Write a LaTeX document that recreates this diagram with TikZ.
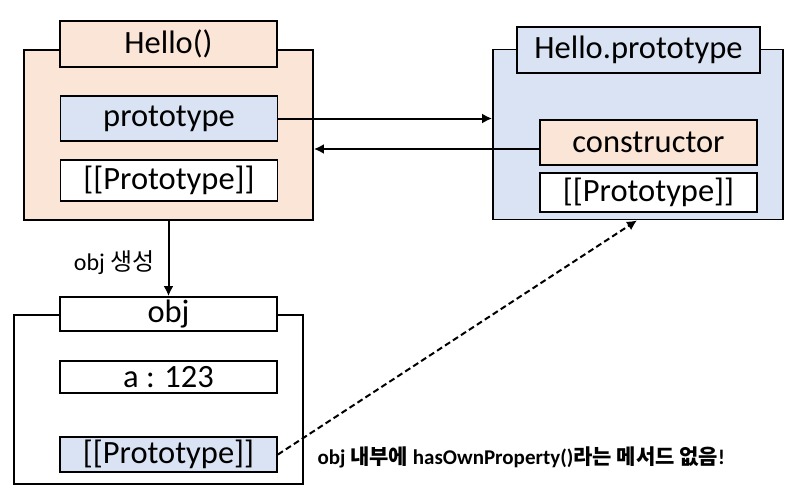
\documentclass[tikz,border=0pt]{standalone}
\usepackage{fontspec}
\setmainfont{Carlito}
\newfontfamily\krfont{Noto Sans CJK KR}
\usepackage{tikz}
\usetikzlibrary{arrows.meta}

\definecolor{peach}{HTML}{FBE5D6}
\definecolor{paleblue}{HTML}{DAE3F3}

\begin{document}
\begin{tikzpicture}[
        x=1pt,
        y=-1pt,
        outer/.style={
            rectangle,
            draw=black,
            line width=1.8pt,
            inner sep=0pt,
            minimum width=289pt,
            minimum height=170pt
        },
        field/.style={
            rectangle,
            draw=black,
            line width=1.8pt,
            inner sep=0pt,
            minimum width=217pt,
            font=\fontsize{32.5}{36}\selectfont
        },
        arrow/.style={
            line width=2pt,
            -{Latex[length=10pt,width=10pt]}
        },
        note/.style={
            font=\fontsize{21}{25}\selectfont\bfseries
        }
    ]

    \useasboundingbox (0,0) rectangle (800,499);

    % Hello() function object
    \node[outer, fill=peach] (hello) at (168.5,135) {};
    \node[field, fill=peach, minimum height=46pt] (hellot) at (168.5,44) {Hello()};
    \node[field, fill=paleblue, minimum height=45pt] (proto) at (169,118.5) {prototype};
    \node[field, fill=white, minimum height=41pt] (hellop) at (169,180.5) {[[Prototype]]};

    % Hello.prototype object
    \node[outer, fill=paleblue, minimum width=290pt] (hproto) at (638,134.5) {};
    \node[field, fill=paleblue, minimum width=243pt, minimum height=46pt] (hprotot) at (638.5,50) {Hello.prototype};
    \node[field, fill=peach, minimum height=45pt] (ctor) at (648.5,142.5) {constructor};
    \node[field, fill=white, minimum height=39pt] (hprotop) at (648.5,192.5) {[[Prototype]]};

    % obj instance
    \node[outer, fill=white, minimum height=169pt] (obj) at (158.5,399.5) {};
    \node[field, fill=white, minimum height=34pt] (objt) at (168.5,314) {obj};
    \node[field, fill=white, minimum height=32pt] (obja) at (168.5,377) {a : 123};
    \node[field, fill=paleblue, minimum height=35pt] (objp) at (168.5,454.5) {[[Prototype]]};

    % Links
    \draw[arrow] (proto.east) -- (proto.east -| hproto.west);
    \draw[arrow] ([yshift=-6.5pt]ctor.west) -- ([yshift=-6.5pt]ctor.west -| hello.east);
    \draw[arrow] (hello.south -| objt.north) -- (objt.north);
    \draw[arrow, dash pattern=on 6pt off 3.5pt] (objp.east) -- ([xshift=-1pt]hproto.south);

    % Labels
    \node[anchor=east, font=\fontsize{24}{28}\selectfont] (make) at (158,263) {obj {\krfont 생성}};
    \node[note, anchor=west] (nomethod) at (314,457) {obj {\krfont\bfseries 내부에} hasOwnProperty(){\krfont\bfseries 라는 메서드 없음}!};

\end{tikzpicture}
\end{document}
